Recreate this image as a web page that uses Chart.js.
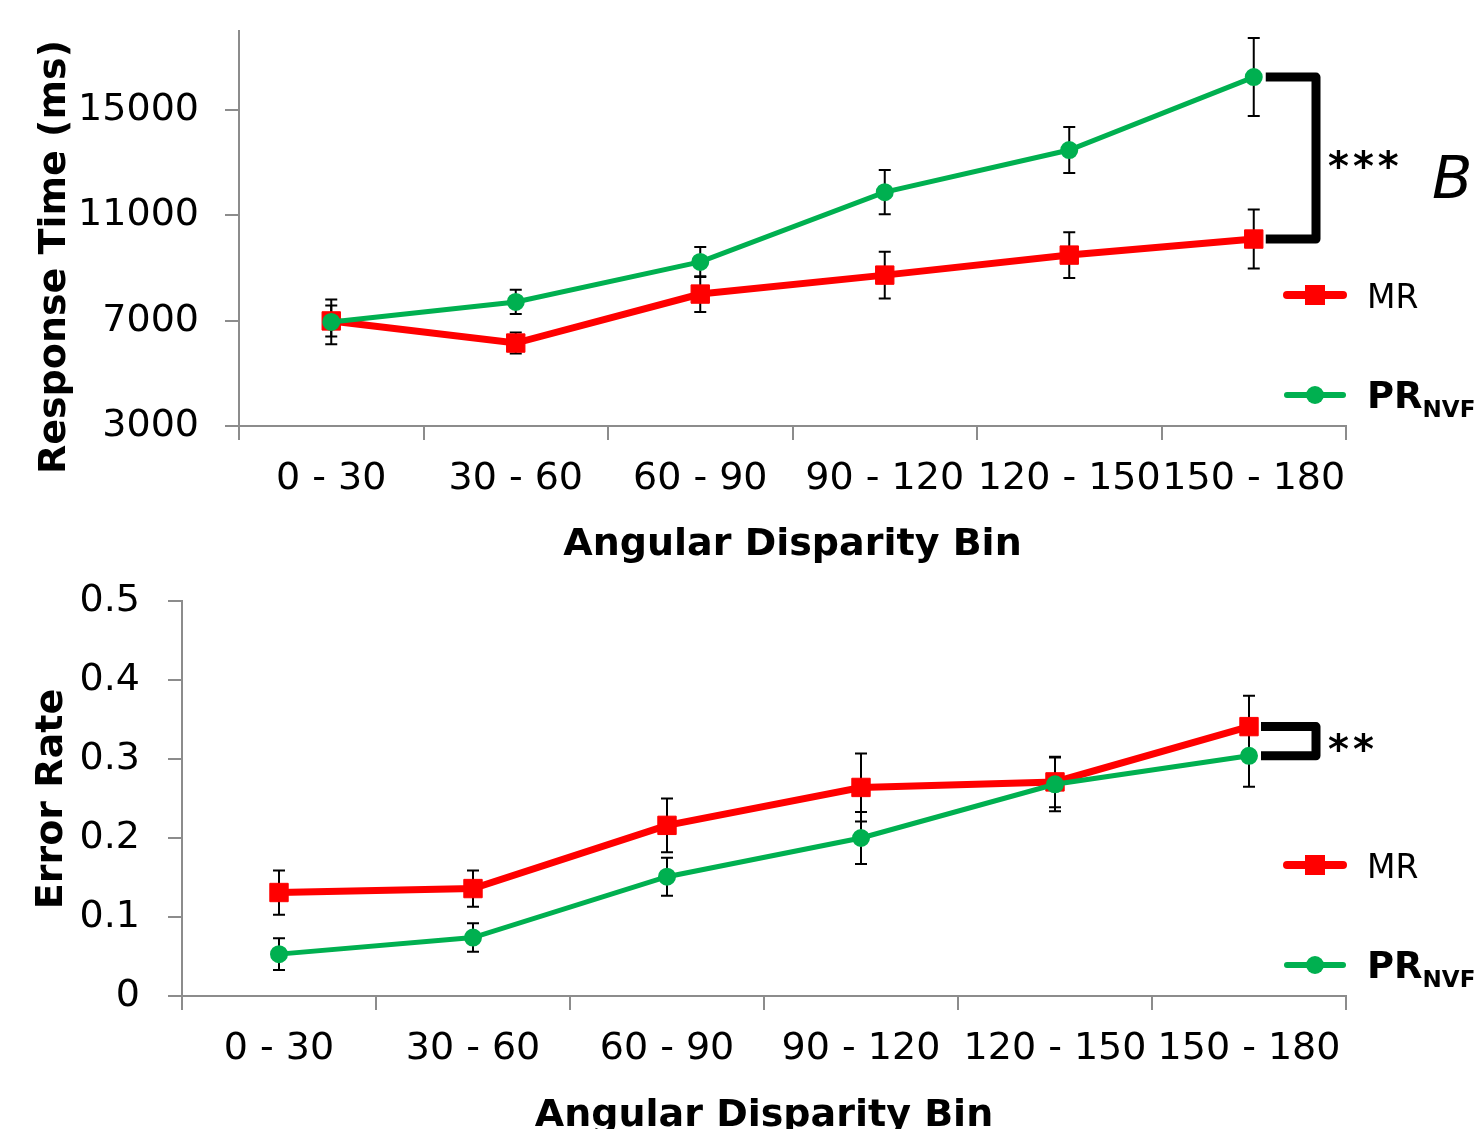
<!DOCTYPE html>
<html>
<head>
<meta charset="utf-8">
<script src="https://cdn.jsdelivr.net/npm/chart.js@4.4.1/dist/chart.umd.min.js"></script>
<style>
  html, body { margin: 0; padding: 0; background: #fff; overflow: hidden; }
  #wrap { position: relative; width: 1474px; height: 1129px; overflow: hidden; }
  #rt { position: absolute; left: 0; top: 0; }
  #er { position: absolute; left: 0; top: 565px; }
</style>
</head>
<body>
<div id="wrap">
  <canvas id="rt" width="1474" height="565"></canvas>
  <canvas id="er" width="1474" height="571"></canvas>
</div>
<script>
// data
const bins = ["0 - 30", "30 - 60", "60 - 90", "90 - 120", "120 - 150", "150 - 180"];

const rtMR = [6990, 6150, 8010, 8730, 9490, 10100];
const rtMRErr = [590, 400, 680, 890, 870, 1120];
const rtPR = [6950, 7710, 9230, 11880, 13480, 16250];
const rtPRErr = [850, 460, 570, 840, 870, 1480];
const rtTicks = [3000, 7000, 11000, 15000];

const erMR = [0.131, 0.136, 0.216, 0.264, 0.271, 0.341];
const erMRErr = [0.028, 0.023, 0.034, 0.043, 0.032, 0.039];
const erPR = [0.053, 0.074, 0.151, 0.200, 0.268, 0.304];
const erPRErr = [0.020, 0.018, 0.024, 0.033, 0.034, 0.039];
const erTicks = [0, 0.1, 0.2, 0.3, 0.4, 0.5];

const RED = '#ff0000';
const GREEN = '#00b050';
const AXIS = '#8c8c8c';
const FONT = "'DejaVu Sans', sans-serif";

Chart.defaults.font.family = FONT;
Chart.defaults.font.size = 38;
Chart.defaults.color = '#000';

// error bars drawn under the lines
const errorBars = {
  id: 'errorBars',
  beforeDatasetsDraw(chart) {
    const {ctx, scales: {x, y}} = chart;
    ctx.save();
    ctx.strokeStyle = '#000';
    ctx.lineWidth = 2;
    chart.data.datasets.forEach(ds => {
      ds.errorBars.forEach((e, i) => {
        const px = x.getPixelForValue(i);
        const top = y.getPixelForValue(ds.data[i] + e);
        const bot = y.getPixelForValue(ds.data[i] - e);
        ctx.beginPath();
        ctx.moveTo(px, top); ctx.lineTo(px, bot);
        ctx.moveTo(px - 6, top); ctx.lineTo(px + 6, top);
        ctx.moveTo(px - 6, bot); ctx.lineTo(px + 6, bot);
        ctx.stroke();
      });
    });
    ctx.restore();
  }
};

// y title, significance bracket, legend, note
const extras = {
  id: 'extras',
  afterDraw(chart, args, opts) {
    const {ctx, chartArea, scales: {x, y}} = chart;
    const ds = chart.data.datasets;
    const last = chart.data.labels.length - 1;
    ctx.save();

    // rotated y title
    ctx.translate(opts.titleX, opts.titleY);
    ctx.rotate(-Math.PI / 2);
    ctx.font = 'bold 38px ' + FONT;
    ctx.fillStyle = '#000';
    ctx.textAlign = 'center';
    ctx.textBaseline = 'middle';
    ctx.fillText(opts.title, 0, 0);
    ctx.setTransform(1, 0, 0, 1, 0, 0);

    // bracket between last points
    const px = x.getPixelForValue(last);
    const ya = y.getPixelForValue(Math.max(ds[0].data[last], ds[1].data[last]));
    const yb = y.getPixelForValue(Math.min(ds[0].data[last], ds[1].data[last]));
    const vx = chartArea.right - 30;
    ctx.strokeStyle = '#000';
    ctx.lineWidth = 9;
    ctx.lineJoin = 'round';
    ctx.beginPath();
    ctx.moveTo(px + 12, ya);
    ctx.lineTo(vx, ya);
    ctx.lineTo(vx, yb);
    ctx.lineTo(px + 12, yb);
    ctx.stroke();

    ctx.font = 'bold 40px ' + FONT;
    ctx.letterSpacing = '4px';
    ctx.textAlign = 'left';
    ctx.textBaseline = 'alphabetic';
    ctx.fillText(opts.stars, vx + 12, (ya + yb) / 2 + 22);
    ctx.letterSpacing = '0px';

    if (opts.note) {
      ctx.font = 'italic 59px ' + FONT;
      ctx.fillText(opts.note, 1432, 198);
    }

    // legend
    const lx0 = chartArea.right - 59, lx1 = chartArea.right - 3, tx = chartArea.right + 21;
    const ly = [chartArea.top + 264, chartArea.top + 364];
    ctx.lineCap = 'round';
    ctx.strokeStyle = RED; ctx.lineWidth = 8;
    ctx.beginPath(); ctx.moveTo(lx0, ly[0]); ctx.lineTo(lx1, ly[0]); ctx.stroke();
    ctx.fillStyle = RED;
    ctx.fillRect((lx0 + lx1) / 2 - 10, ly[0] - 10, 20, 20);
    ctx.strokeStyle = GREEN; ctx.lineWidth = 6;
    ctx.beginPath(); ctx.moveTo(lx0, ly[1]); ctx.lineTo(lx1, ly[1]); ctx.stroke();
    ctx.fillStyle = GREEN;
    ctx.beginPath(); ctx.arc((lx0 + lx1) / 2, ly[1], 9, 0, Math.PI * 2); ctx.fill();

    ctx.fillStyle = '#000';
    ctx.font = '33px ' + FONT;
    ctx.fillText('MR', tx, ly[0] + 13);
    ctx.font = 'bold 37px ' + FONT;
    ctx.fillText('PR', tx, ly[1] + 13);
    const w = ctx.measureText('PR').width;
    ctx.font = 'bold 23px ' + FONT;
    ctx.fillText('NVF', tx + w, ly[1] + 22);
    ctx.restore();
  }
};

function makeChart(id, mr, mrErr, pr, prErr, yMin, yMax, yTicks, fmt, geo, extraOpts) {
  return new Chart(document.getElementById(id), {
    type: 'line',
    data: {
      labels: bins,
      datasets: [
        {
          label: 'MR',
          data: mr,
          errorBars: mrErr,
          borderColor: RED,
          backgroundColor: RED,
          borderWidth: 7,
          pointStyle: 'rect',
          pointRadius: 13,
          pointBorderWidth: 1,
          order: 1
        },
        {
          label: 'PR NVF',
          data: pr,
          errorBars: prErr,
          borderColor: GREEN,
          backgroundColor: GREEN,
          borderWidth: 5,
          pointStyle: 'circle',
          pointRadius: 8,
          pointBorderWidth: 2,
          order: 0
        }
      ]
    },
    options: {
      responsive: false,
      animation: false,
      layout: { padding: { top: geo.top, right: 128, left: 0, bottom: 0 } },
      plugins: {
        legend: { display: false },
        tooltip: { enabled: false },
        extras: extraOpts
      },
      scales: {
        x: {
          offset: true,
          grid: { display: true, offset: true, drawOnChartArea: false, drawTicks: true, tickLength: 14, color: AXIS, lineWidth: 2 },
          border: { display: true, color: AXIS, width: 2 },
          ticks: { autoSkip: false, maxRotation: 0, padding: geo.xPad, font: { size: 38 } },
          title: { display: true, text: 'Angular Disparity Bin', font: { size: 38, weight: 'bold' }, padding: { top: 0, bottom: geo.titlePad } },
          afterFit: s => {
            s.height = geo.xHeight;
            s.paddingLeft = 0; s.paddingRight = 0;
          }
        },
        y: {
          min: yMin,
          max: yMax,
          grid: { display: true, drawOnChartArea: false, drawTicks: true, tickLength: 14, color: AXIS, lineWidth: 2 },
          border: { display: true, color: AXIS, width: 2 },
          ticks: { padding: geo.yPad, font: { size: 38 }, callback: fmt },
          afterBuildTicks: s => { s.ticks = yTicks.map(v => ({ value: v })); },
          afterFit: s => {
            s.width = geo.yWidth;
            s.paddingTop = 0; s.paddingBottom = 0;
          }
        }
      }
    },
    plugins: [errorBars, extras]
  });
}

makeChart('rt', rtMR, rtMRErr, rtPR, rtPRErr, 3000, 18000, rtTicks, v => String(v),
  { top: 31, xHeight: 139, yWidth: 239, xPad: 16, yPad: 26, titlePad: -3 },
  { title: 'Response Time (ms)', titleX: 55, titleY: 257, stars: '***', note: 'Be' });

makeChart('er', erMR, erMRErr, erPR, erPRErr, 0, 0.5, erTicks, v => String(Math.round(v * 10) / 10),
  { top: 36, xHeight: 140, yWidth: 182, xPad: 16, yPad: 28, titlePad: -3 },
  { title: 'Error Rate', titleX: 52, titleY: 234, stars: '**', note: '' });
</script>
</body>
</html>
